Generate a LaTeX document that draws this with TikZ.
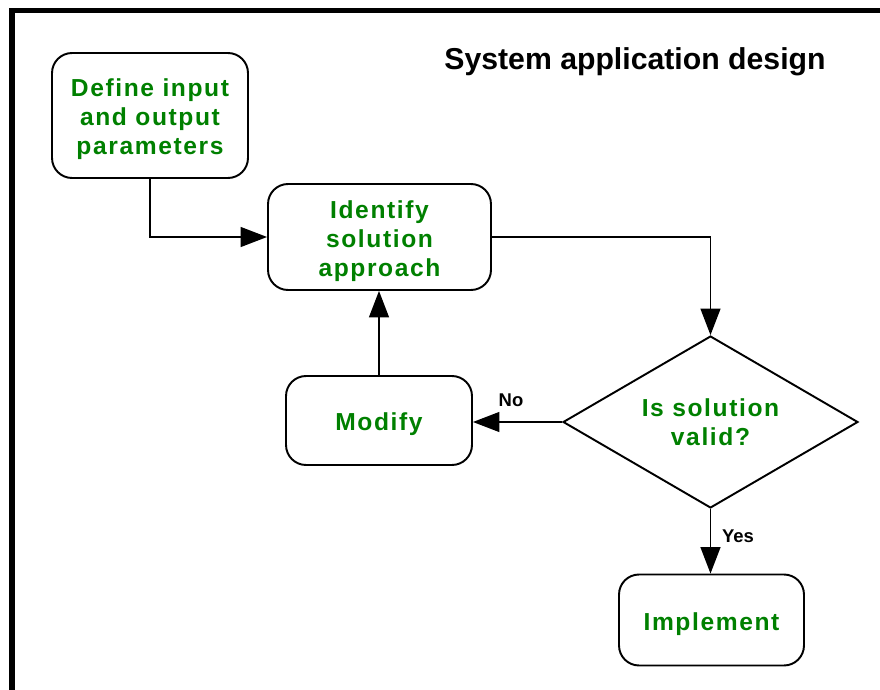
\documentclass[tikz,border=0pt]{standalone}
\usepackage{fontspec}
\setmainfont{Liberation Sans}
\newfontfamily\flowfont{Liberation Sans}[LetterSpace=6.5]
\usetikzlibrary{arrows.meta,positioning,shapes.geometric}
\definecolor{stepgreen}{RGB}{0,128,0}
\newcommand{\topstrut}{\rule{0pt}{14.5pt}}

\begin{document}
\begin{tikzpicture}[
    x=0.02cm, y=-0.02cm,
    process/.style={rectangle, rounded corners=0.4cm, draw, line width=1.1pt, align=center, text=stepgreen, font=\flowfont\fontsize{14}{16.4}\selectfont\bfseries, inner sep=0pt},
    decision/.style={diamond, shape aspect=1.715, draw, line width=1.1pt, align=center, text=stepgreen, font=\flowfont\fontsize{14}{16.4}\selectfont\bfseries, inner sep=0pt},
    arrow/.style={-{Triangle[length=5.3mm, width=4mm]}, line width=0.8pt},
    branch/.style={font=\fontsize{10.5}{12}\selectfont\bfseries, inner sep=0pt}
]
\useasboundingbox (0,0) rectangle (880,690);
\clip (0,0) rectangle (880,690);

% outer frame
\draw[line width=3.4pt] (12,720) |- (900,10.5);

% title
\node[font=\fontsize{17.2}{20}\selectfont\bfseries] (title) at (635,62) {System application design};

% steps
\node[process, minimum width=3.92cm, minimum height=2.5cm] (define) at (150,115.5) {\topstrut Define input\\and output\\parameters};
\node[process, minimum width=4.46cm, minimum height=2.12cm] (identify) at (379.5,237) {\topstrut Identify\\solution\\approach};
\node[process, minimum width=3.72cm, minimum height=1.78cm] (modify) at (379,420.5) {\topstrut Modify};
\node[decision, minimum width=5.9cm, minimum height=3.44cm] (valid) at (710.5,422) {Is solution\\valid?};
\node[process, minimum width=3.7cm, minimum height=1.82cm] (implement) at (711.5,620) {\topstrut Implement};

% connectors
\draw[arrow] (define.south) |- (identify.west);
\draw[arrow] (identify.east) -| (valid.north);
\draw[arrow] (valid.west) -- (valid.west -| modify.east);
\draw[arrow] (modify.north) -- (modify.north |- identify.south);
\draw[arrow] (valid.south) -- (valid.south |- implement.north);

% branch labels
\node[branch] (no) at (511,400) {No};
\node[branch] (yes) at (738,536) {Yes};

\end{tikzpicture}
\end{document}
